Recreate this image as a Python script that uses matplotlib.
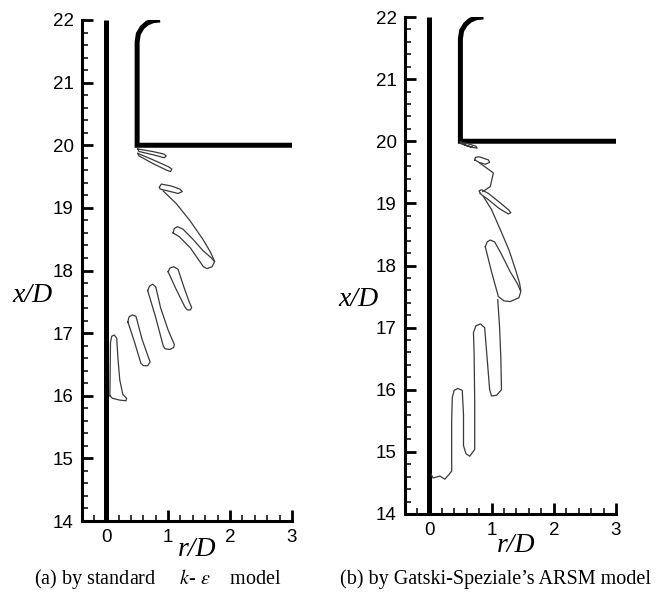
import numpy as np
import matplotlib
matplotlib.use("Agg")
import matplotlib.pyplot as plt
from matplotlib.ticker import MultipleLocator

plt.rcParams["mathtext.fontset"] = "stix"

# ---------------- data ----------------
x_ticks = [0, 1, 2, 3]
y_ticks = [14, 15, 16, 17, 18, 19, 20, 21, 22]
xlim = (-0.39, 3.0)
ylim = (14, 22)

# geometry: wall (axis) and nozzle
wall_r = [0, 0]
wall_x = [14, 22]
nozzle_r = [3.0, 0.5, 0.5, 0.52, 0.58, 0.66, 0.76, 0.87]
nozzle_x = [20.0, 20.0, 21.65, 21.78, 21.88, 21.95, 21.99, 22.0]

# ---- panel (a): standard k-epsilon (closed contour loops, r and x/D) ----
a_rod5_r = [0.06, 0.07, 0.09, 0.13, 0.17, 0.19, 0.22, 0.27, 0.33, 0.32, 0.22, 0.10, 0.06]
a_rod5_x = [16.00, 16.85, 16.95, 16.97, 16.92, 16.60, 16.25, 16.02, 15.96, 15.92, 15.93, 15.96, 16.00]
a_rod4_r = [0.35, 0.37, 0.42, 0.48, 0.50, 0.58, 0.68, 0.71, 0.67, 0.60, 0.56, 0.46, 0.35]
a_rod4_x = [17.18, 17.26, 17.29, 17.27, 17.20, 16.90, 16.62, 16.54, 16.48, 16.48, 16.52, 16.85, 17.18]
a_rod3_r = [0.67, 0.70, 0.75, 0.80, 0.88, 1.00, 1.10, 1.09, 1.03, 0.95, 0.92, 0.80, 0.67]
a_rod3_x = [17.68, 17.75, 17.78, 17.74, 17.40, 17.05, 16.82, 16.77, 16.74, 16.75, 16.80, 17.25, 17.68]
a_rod2_r = [1.00, 1.03, 1.09, 1.16, 1.25, 1.34, 1.38, 1.36, 1.31, 1.27, 1.12, 1.00]
a_rod2_x = [17.98, 18.04, 18.06, 18.02, 17.75, 17.50, 17.41, 17.37, 17.37, 17.42, 17.72, 17.98]
a_ban_r = [1.08, 1.10, 1.15, 1.24, 1.40, 1.56, 1.70, 1.75, 1.71, 1.63, 1.57, 1.36, 1.18, 1.08]
a_ban_x = [18.60, 18.67, 18.70, 18.66, 18.50, 18.32, 18.20, 18.14, 18.06, 18.03, 18.06, 18.36, 18.54, 18.60]
a_arc_r = [0.92, 1.13, 1.35, 1.56, 1.68, 1.75]
a_arc_x = [19.27, 19.07, 18.80, 18.50, 18.30, 18.15]
a_lobeC_r = [0.86, 0.89, 1.05, 1.19, 1.23, 1.16, 1.00, 0.87]
a_lobeC_x = [19.33, 19.38, 19.35, 19.30, 19.26, 19.23, 19.27, 19.30]
a_lobeB_r = [0.51, 0.75, 1.00, 1.06, 1.04, 0.98, 0.75, 0.53]
a_lobeB_x = [19.87, 19.77, 19.66, 19.62, 19.58, 19.60, 19.71, 19.83]
a_lobeA_r = [0.51, 0.75, 0.93, 0.97, 0.94, 0.75, 0.53]
a_lobeA_x = [19.94, 19.90, 19.86, 19.83, 19.80, 19.85, 19.90]

# ---- panel (b): Gatski-Speziale ARSM ----
b_snake_r = [0.03, 0.06, 0.17, 0.25, 0.32, 0.36,
             0.36, 0.37, 0.40, 0.46, 0.53,
             0.55, 0.55, 0.59, 0.65, 0.73,
             0.73, 0.72, 0.71, 0.75, 0.82, 0.89,
             0.93, 0.97, 1.00, 1.08, 1.16,
             1.15, 1.13, 1.10]
b_snake_x = [14.64, 14.58, 14.61, 14.56, 14.64, 14.69,
             15.50, 15.88, 15.99, 16.02, 15.99,
             15.60, 15.10, 14.97, 14.93, 15.04,
             15.80, 16.60, 16.92, 17.03, 17.06, 17.00,
             16.50, 16.00, 15.90, 15.91, 16.00,
             16.50, 17.00, 17.45]
b_F_r = [0.90, 0.93, 0.98, 1.05, 1.15, 1.30, 1.42, 1.47, 1.44, 1.30, 1.20, 1.11, 1.00, 0.90]
b_F_x = [18.30, 18.38, 18.41, 18.38, 18.20, 17.90, 17.70, 17.58, 17.48, 17.42, 17.43, 17.50, 17.90, 18.30]
b_arc_r = [0.87, 1.00, 1.14, 1.28, 1.38, 1.45, 1.47]
b_arc_x = [19.11, 18.90, 18.58, 18.25, 17.95, 17.72, 17.60]
b_ovalE_r = [0.82, 0.80, 0.84, 0.95, 1.15, 1.28, 1.31, 1.27, 1.12, 0.95, 0.85]
b_ovalE_x = [19.16, 19.20, 19.22, 19.16, 19.00, 18.89, 18.85, 18.83, 18.92, 19.06, 19.13]
b_zig_r = [0.86, 0.98, 1.03, 0.81]
b_zig_x = [19.19, 19.27, 19.49, 19.65]
b_hook_r = [0.73, 0.74, 0.80, 0.95, 0.97, 0.90, 0.80, 0.73]
b_hook_x = [19.70, 19.74, 19.75, 19.70, 19.66, 19.63, 19.66, 19.70]
b_lobe_r = [0.50, 0.62, 0.75, 0.77, 0.70, 0.58, 0.50, 0.60, 0.70, 0.62, 0.51]
b_lobe_x = [19.99, 19.96, 19.92, 19.89, 19.90, 19.94, 19.98, 19.93, 19.90, 19.92, 19.96]

captions = ["(a) by standard     $k$- $\\varepsilon$    model",
            "(b) by Gatski-Speziale\u2019s ARSM model"]

# ---------------- plotting ----------------
W, H = 662, 594
fig = plt.figure(figsize=(W / 100, H / 100), dpi=100)

ax_boxes = [
    (82 / W, (H - 521) / H, 210 / W, 501 / H),
    (405 / W, (H - 514) / H, 211 / W, 497 / H),
]

line_kw = dict(color="#3a3a3a", lw=0.9, solid_joinstyle="round")

panels = [
    [(a_rod5_r, a_rod5_x, True), (a_rod4_r, a_rod4_x, True),
     (a_rod3_r, a_rod3_x, True), (a_rod2_r, a_rod2_x, True),
     (a_ban_r, a_ban_x, True), (a_arc_r, a_arc_x, False),
     (a_lobeC_r, a_lobeC_x, True), (a_lobeB_r, a_lobeB_x, True),
     (a_lobeA_r, a_lobeA_x, True)],
    [(b_snake_r, b_snake_x, False), (b_F_r, b_F_x, True),
     (b_arc_r, b_arc_x, False), (b_ovalE_r, b_ovalE_x, True),
     (b_zig_r, b_zig_x, False), (b_hook_r, b_hook_x, True),
     (b_lobe_r, b_lobe_x, True)],
]

for i, box in enumerate(ax_boxes):
    ax = fig.add_axes(box)
    ax.set_xlim(*xlim)
    ax.set_ylim(*ylim)
    for s in ["top", "right"]:
        ax.spines[s].set_visible(False)
    for s in ["left", "bottom"]:
        ax.spines[s].set_linewidth(2.2)
    ax.set_xticks(x_ticks)
    ax.set_yticks(y_ticks)
    ax.xaxis.set_minor_locator(MultipleLocator(0.2))
    ax.yaxis.set_minor_locator(MultipleLocator(0.2))
    ax.tick_params(which="major", direction="in", length=8, width=2.0,
                   labelsize=13.5, pad=6)
    ax.tick_params(which="minor", direction="in", length=4, width=1.1)
    for lab in ax.get_xticklabels() + ax.get_yticklabels():
        lab.set_family("Liberation Sans")

    # wall and nozzle
    ax.plot(wall_r, wall_x, color="black", lw=3.6, solid_capstyle="butt")
    ax.plot(nozzle_r, nozzle_x, color="black", lw=3.6,
            solid_joinstyle="miter", solid_capstyle="butt")

    for r, x, closed in panels[i]:
        rr = list(r) + ([r[0]] if closed else [])
        xx = list(x) + ([x[0]] if closed else [])
        ax.plot(rr, xx, **line_kw)

# axis labels and captions in figure pixels
def fx(px):
    return px / W

def fy(py):
    return 1 - py / H

lab_kw = dict(family="Liberation Serif", style="italic", fontsize=20,
              ha="center", va="center")
fig.text(fx(32), fy(296), "x/D", **lab_kw)
fig.text(fx(358), fy(300), "x/D", **lab_kw)
fig.text(fx(197), fy(550), "r/D", **lab_kw)
fig.text(fx(516), fy(546), "r/D", **lab_kw)

cap_kw = dict(family="Liberation Serif", fontsize=14.5, ha="center", va="center")
fig.text(fx(158), fy(579), captions[0], **cap_kw)
fig.text(fx(495), fy(579), captions[1], **cap_kw)

fig.savefig("out.png", dpi=100)
